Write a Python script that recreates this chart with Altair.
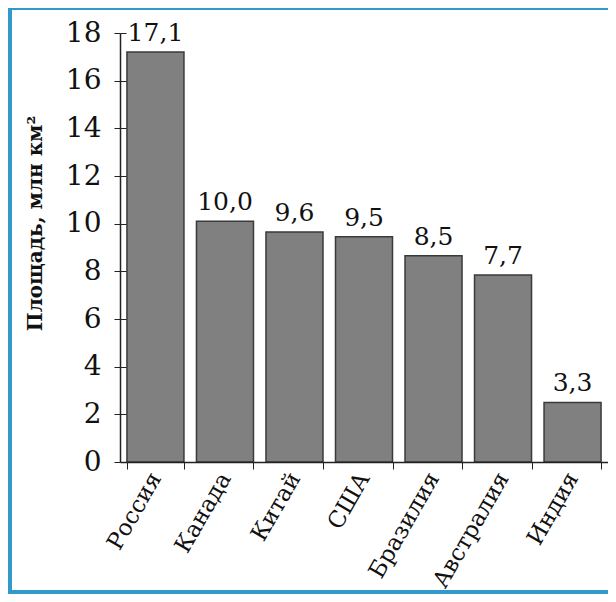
import altair as alt
import pandas as pd

countries = ["Россия", "Канада", "Китай", "США", "Бразилия", "Австралия", "Индия"]
bar_heights = [17.2, 10.1, 9.65, 9.45, 8.65, 7.85, 2.5]
value_labels = ["17,1", "10,0", "9,6", "9,5", "8,5", "7,7", "3,3"]
y_ticks = [0, 2, 4, 6, 8, 10, 12, 14, 16, 18]

df = pd.DataFrame({"country": countries, "value": bar_heights, "label": value_labels})

FONT = "DejaVu Serif"
INK = "#111111"
AXC = "#222222"
W = 488

x_enc = alt.X(
    "country:N",
    sort=countries,
    scale=alt.Scale(paddingInner=0.18, paddingOuter=0.1),
    axis=alt.Axis(
        title=None,
        labelAngle=-60,
        labelAlign="right",
        labelBaseline="middle",
        labelFont=FONT,
        labelFontSize=23,
        labelColor=INK,
        labelPadding=5,
        tickSize=7,
        tickBand="extent",
        tickColor=AXC,
        domainColor=AXC,
        domainWidth=1.5,
        grid=False,
        zindex=1,
    ),
)

y_scale = alt.Scale(domain=[0, 18], nice=False)

y_enc = alt.Y(
    "value:Q",
    scale=y_scale,
    axis=alt.Axis(
        values=y_ticks,
        title="Площадь, млн км²",
        titleFont=FONT,
        titleFontSize=20,
        titleFontWeight="bold",
        titleColor=INK,
        titleAngle=-90,
        titleX=-85,
        titleY=190,
        titleAlign="center",
        titleBaseline="middle",
        labelFont=FONT,
        labelFontSize=28,
        labelColor=INK,
        labelPadding=13,
        tickSize=6,
        tickColor=AXC,
        domainColor=AXC,
        domainWidth=1.5,
        grid=False,
        zindex=1,
    ),
)

# inward half of the crossing tick marks on the y axis
y_inner = alt.Y(
    "value:Q",
    scale=y_scale,
    axis=alt.Axis(
        orient="right",
        offset=-W,
        values=y_ticks,
        title=None,
        labels=False,
        domain=False,
        tickSize=6,
        tickColor=AXC,
        grid=False,
        zindex=1,
    ),
)

frame = alt.Chart(pd.DataFrame({"d": [0]})).mark_rect(fill="white").encode(
    x=alt.value(-108), x2=alt.value(500), y=alt.value(-23), y2=alt.value(557)
)

bars = alt.Chart(df).mark_bar(
    fill="#808080", stroke="#3a3a3a", strokeWidth=1.5
).encode(x=x_enc, y=y_enc)

text = alt.Chart(df).mark_text(
    dy=-6, baseline="bottom", font=FONT, fontSize=25, color=INK
).encode(x=alt.X("country:N", sort=countries), y=y_inner, text="label:N")

chart = alt.layer(frame, bars, text).resolve_axis(y="independent").properties(
    width=W,
    height=429,
    autosize=alt.AutoSizeParams(type="none"),
    padding={"left": 112, "top": 25, "right": 0, "bottom": 132},
    background="#3399cc",
).configure_view(stroke=None)

chart.save("out.html", embed_options={"renderer": "svg", "actions": False})
